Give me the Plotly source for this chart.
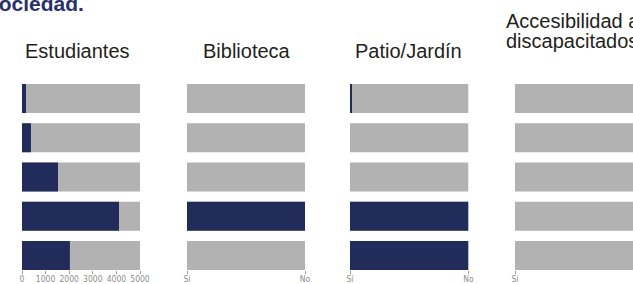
import plotly.graph_objects as go

# ---- data ----
rows = ["Fila 1", "Fila 2", "Fila 3", "Fila 4", "Fila 5"]
panel_titles = ["Estudiantes", "Biblioteca", "Patio/Jardín"]
panel4_title_lines = ["Accesibilidad a", "discapacitados"]
estudiantes = [170, 380, 1525, 4110, 2030]
estudiantes_max = 5000
biblioteca = [0, 0, 0, 1, 0]
patio = [0.01, 0, 0, 1, 1]
accesibilidad = [0, 0, 0, 0, 0]
est_ticks = [0, 1000, 2000, 3000, 4000, 5000]
sino_ticks = [0, 1]
sino_labels = ["Sí", "No"]

NAVY = "#222c5b"
GRAY = "#b1b2b1"
W, H = 633, 284

fig = go.Figure()

panels = [
    ("x", estudiantes, estudiantes_max, [22, 140]),
    ("x2", biblioteca, 1, [187, 305]),
    ("x3", patio, 1, [350, 468.5]),
    ("x4", accesibilidad, 1, [515, 633]),
]

for xa, vals, vmax, _ in panels:
    fig.add_trace(go.Bar(y=rows, x=[vmax] * len(rows), orientation="h",
                         marker=dict(color=GRAY, line=dict(width=0)),
                         xaxis=xa, yaxis="y", showlegend=False, hoverinfo="skip"))
    fig.add_trace(go.Bar(y=rows, x=vals, orientation="h",
                         marker=dict(color=NAVY, line=dict(width=0)),
                         xaxis=xa, yaxis="y", showlegend=False))

tickfont = dict(family="Liberation Sans Narrow, DejaVu Sans Condensed, Roboto Condensed, Arial Narrow, sans-serif",
                size=8.5, color="#8c8c8c")

axis_common = dict(showgrid=False, zeroline=False, showline=False, ticks="outside",
                   ticklen=3, tickwidth=1, tickcolor="#9a9a9a", tickfont=tickfont,
                   tickangle=0, automargin=False, ticklabelstandoff=-2,
                   anchor="y", fixedrange=True)

layout_axes = {}
for i, (xa, vals, vmax, px) in enumerate(panels):
    name = "xaxis" if i == 0 else f"xaxis{i+1}"
    d = dict(axis_common, domain=[px[0] / W, px[1] / W], range=[0, vmax])
    if i == 0:
        d.update(tickmode="array", tickvals=est_ticks, ticktext=[str(t) for t in est_ticks])
    else:
        d.update(tickmode="array", tickvals=sino_ticks, ticktext=sino_labels)
    layout_axes[name] = d

half = 0.3695
fig.update_layout(
    width=W, height=H,
    margin=dict(l=0, r=0, t=0, b=0, autoexpand=False),
    paper_bgcolor="white", plot_bgcolor="white",
    barmode="overlay", bargap=0.261,
    yaxis=dict(domain=[1 - 270 / H, 1 - 84 / H], type="category",
               categoryorder="array", categoryarray=rows,
               range=[4 + half, -half], showticklabels=False, showgrid=False,
               zeroline=False, showline=False, ticks="", fixedrange=True,
               automargin=False),
    **layout_axes,
)

title_font = dict(family="Liberation Sans, Arial, Helvetica, sans-serif", size=20, color="#231f20")
centers = [77.5, 246.5, 408]
for t, cx in zip(panel_titles, centers):
    fig.add_annotation(text=t, x=cx / W, y=1 - 51.4 / H, xref="paper", yref="paper",
                       xanchor="center", yanchor="middle", showarrow=False, font=title_font)

for line, base in zip(panel4_title_lines, [27.7, 48.3]):
    fig.add_annotation(text=line, x=504 / W, y=1 - (base - 6.93) / H, xref="paper", yref="paper",
                       xanchor="left", yanchor="middle", showarrow=False, font=title_font)

fig.add_annotation(text="<b>sociedad.</b>", x=86 / W, y=1 - (11 - 7.3) / H, xref="paper", yref="paper",
                   xanchor="right", yanchor="middle", showarrow=False,
                   font=dict(family="Liberation Sans, Arial, Helvetica, sans-serif", size=21, color="#28326a"))

fig.write_html("out.html", config={"displayModeBar": False},
               post_script="document.body.style.margin='0';document.body.style.padding='0';"
                           "document.body.style.overflow='hidden';")
